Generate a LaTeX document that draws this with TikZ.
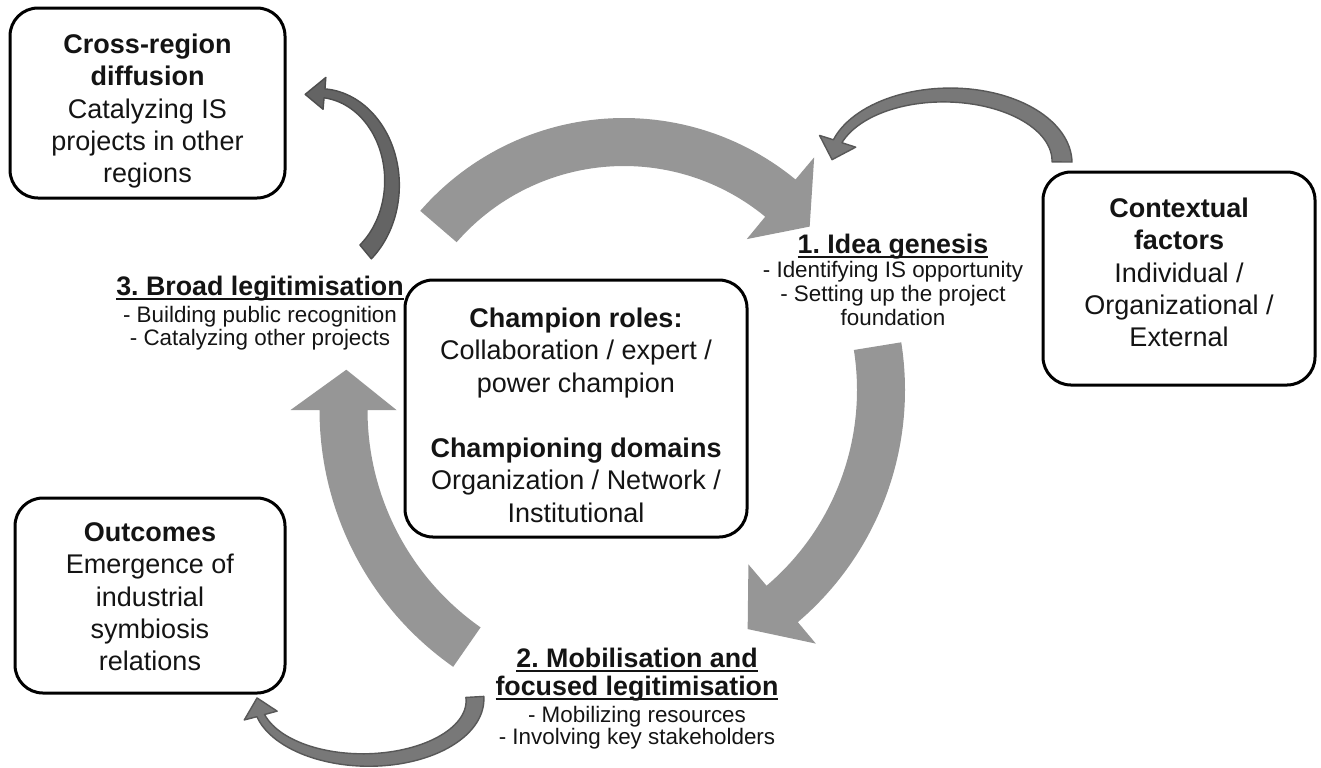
\documentclass[tikz,border=0pt]{standalone}
\usepackage{fontspec}
\setmainfont{Liberation Sans}
\definecolor{bigarrow}{RGB}{150,150,150}
\definecolor{smallfill}{RGB}{120,120,120}
\definecolor{smalledge}{RGB}{88,88,88}
\definecolor{smallfillB}{RGB}{100,100,100}
\definecolor{smalledgeB}{RGB}{78,78,78}
\definecolor{txt}{RGB}{20,20,20}
\newcommand\myul[1]{\leavevmode\setbox0=\hbox{#1}\rlap{\rule[-2.6pt]{\wd0}{1.1pt}}\box0}
\def\parsew#1/#2/#3\relax{\def\wa{#1}\def\wb{#2}\def\hhw{#3}}
% #1 style, #2 cx, #3 cy, #4 rx, #5 ry, #6 tail angle, #7 head-base angle, #8 tip angle, #9 wa/wb/headhalfwidth
\newcommand\cvarrow[9]{%
 \parsew#9\relax
 \fill[#1] plot[domain=0:1,samples=60] ({(#2)+((#4)+((\wa)+((\wb)-(\wa))*\x)/2)*cos((#6)+((#7)-(#6))*\x)},{(#3)+((#5)+((\wa)+((\wb)-(\wa))*\x)/2)*sin((#6)+((#7)-(#6))*\x)})
 -- ({(#2)+((#4)+(\hhw))*cos(#7)},{(#3)+((#5)+(\hhw))*sin(#7)})
 -- ({(#2)+(#4)*cos(#8)},{(#3)+(#5)*sin(#8)})
 -- ({(#2)+((#4)-(\hhw))*cos(#7)},{(#3)+((#5)-(\hhw))*sin(#7)})
 -- plot[domain=0:1,samples=60] ({(#2)+((#4)-((\wb)+((\wa)-(\wb))*\x)/2)*cos((#7)+((#6)-(#7))*\x)},{(#3)+((#5)-((\wb)+((\wa)-(\wb))*\x)/2)*sin((#7)+((#6)-(#7))*\x)})
 -- cycle;}
\tikzset{
 bigstyle/.style={fill=bigarrow},
 smallA/.style={fill=smallfill, draw=smalledge, line width=0.7pt, line join=round},
 smallB/.style={fill=smallfillB, draw=smalledgeB, line width=0.7pt, line join=round},
 box/.style={draw=black, line width=1.5pt, rounded corners=14pt, fill=white, inner sep=0pt},
 bigtext/.style={font=\fontsize{13.5pt}{16.2pt}\selectfont, align=center, inner sep=0pt, text=txt},
 headtext/.style={font=\fontsize{13.4pt}{14pt}\selectfont\bfseries, align=center, inner sep=0pt, text=txt},
 subtext/.style={font=\fontsize{11.2pt}{12pt}\selectfont, align=center, inner sep=0pt, text=txt}
}
\begin{document}
\frenchspacing
\begin{tikzpicture}[x=0.5pt,y=-0.5pt]
\useasboundingbox (0,0) rectangle (1321,767);
% big cycle arrows
\cvarrow{bigstyle}{624}{388}{246}{246}{-139}{-50.5}{-41}{48/48/53}
\cvarrow{bigstyle}{600}{390}{281}{281}{-9}{49.6}{58.3}{48/48/52}
\cvarrow{bigstyle}{633}{410}{289.5}{289.5}{125}{180}{188}{48/48/53}
% small arrows
\cvarrow{smallA}{947}{162}{115}{67}{0}{-162}{-178}{20/9/19}
\cvarrow{smallB}{318}{183}{74}{90}{50}{-85}{-100}{18/9/16}
\cvarrow{smallA}{366}{700}{109}{60}{-3}{165}{182}{18/8/17}
% boxes
\node[box, minimum width=137.5pt, minimum height=95pt] (crbox) at (147.5,103) {};
\node[box, minimum width=136pt, minimum height=106.5pt] (cfbox) at (1179,278.5) {};
\node[box, minimum width=171pt, minimum height=128.5pt] (chbox) at (576,408.5) {};
\node[box, minimum width=135pt, minimum height=97.5pt] (outbox) at (150,595.5) {};
% box texts
\node[bigtext, anchor=north] (crtext) at (147.5,33.3) {\textbf{Cross-region}\\\textbf{diffusion}\\Catalyzing IS\\projects in other\\regions};
\node[bigtext, anchor=north] (cftext) at (1179,197.3) {\textbf{Contextual}\\\textbf{factors}\\Individual /\\Organizational /\\External};
\node[bigtext, anchor=north] (outtext) at (150,522) {\textbf{Outcomes}\\Emergence of\\industrial\\symbiosis\\relations};
\node[bigtext, anchor=north, font=\fontsize{13.5pt}{16.25pt}\selectfont] (chtext) at (576,307.3) {\textbf{Champion roles:}\\Collaboration / expert /\\power champion\\[16.25pt]\textbf{Championing domains}\\Organization / Network /\\Institutional};
% step labels
\node[headtext, anchor=base] (s1head) at (893,253) {\myul{1. Idea genesis}};
\node[subtext, anchor=north] (s1sub) at (893,260.6) {- Identifying IS opportunity\\- Setting up the project\\foundation};
\node[headtext, anchor=north] (s2head) at (637,647.3) {\myul{2. Mobilisation and}\\\myul{focused legitimisation}};
\node[subtext, anchor=north, font=\fontsize{11.2pt}{11pt}\selectfont] (s2sub) at (637,705.6) {- Mobilizing resources\\- Involving key stakeholders};
\node[headtext, anchor=base] (s3head) at (260,295) {\myul{3. Broad legitimisation}};
\node[subtext, anchor=north, font=\fontsize{11.2pt}{11.5pt}\selectfont] (s3sub) at (260,305.6) {- Building public recognition\\- Catalyzing other projects};
\end{tikzpicture}
\end{document}
